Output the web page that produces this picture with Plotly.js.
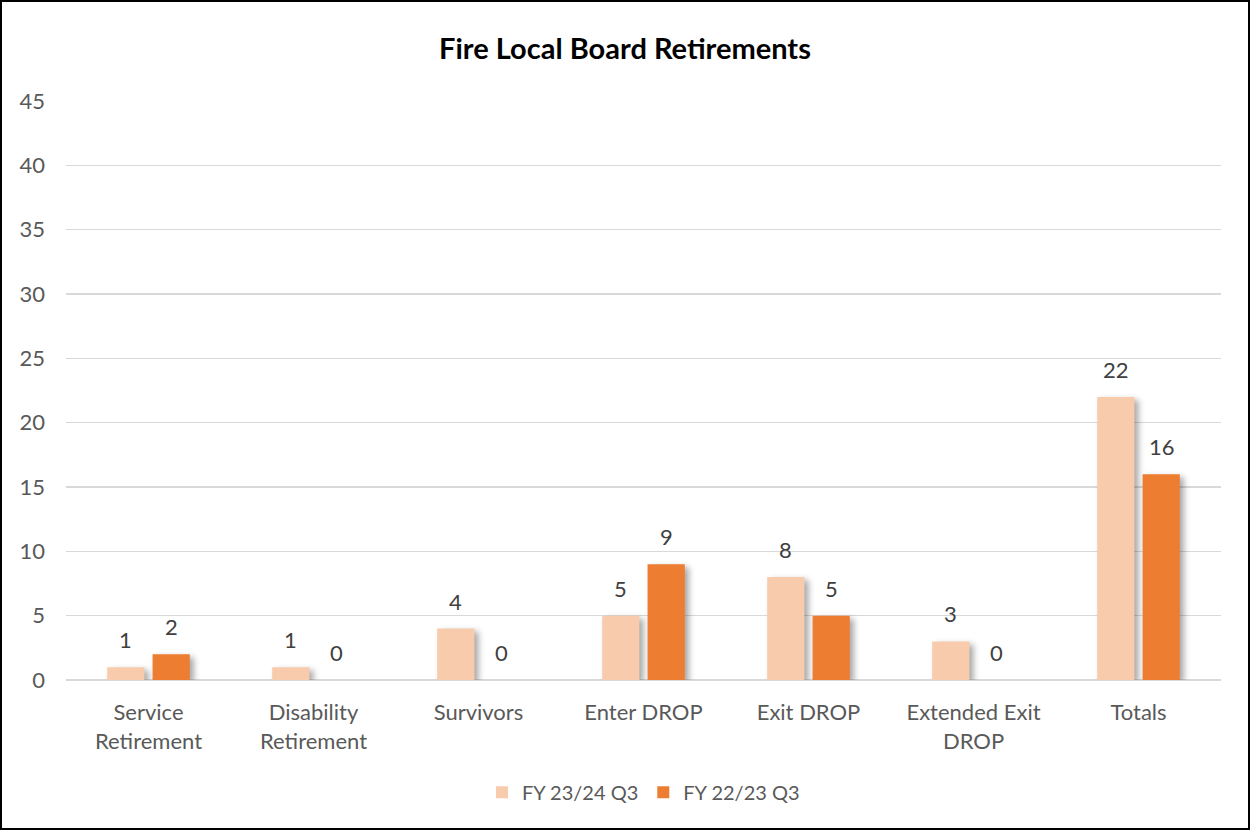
<!DOCTYPE html>
<html>
<head>
<meta charset="utf-8">
<script src="https://cdn.plot.ly/plotly-3.0.1.min.js"></script>
<style>
  html, body { margin: 0; padding: 0; background: #fff; }
  #frame { width: 1250px; height: 830px; box-sizing: border-box; border: 2px solid #000; }
  #chart { width: 1246px; height: 826px; }
  #chart .bars .point path { filter: drop-shadow(4px 3px 3px rgba(0,0,0,0.35)); }
</style>
</head>
<body>
<div id="frame"><div id="chart"></div></div>
<script>
// categories (two-line labels as in the source)
const categories = [
  "Service<br>Retirement",
  "Disability<br>Retirement",
  "Survivors",
  "Enter DROP",
  "Exit DROP",
  "Extended Exit<br>DROP",
  "Totals"
];
const fy2324 = [1, 1, 4, 5, 8, 3, 22];
const fy2223 = [2, 0, 0, 9, 5, 0, 16];
const seriesNames = ["FY 23/24 Q3", "FY 22/23 Q3"];
const yTicks = [0, 5, 10, 15, 20, 25, 30, 35, 40, 45];

const FONT = "Lato, 'Open Sans', sans-serif";
const labelFont = {family: FONT, size: 22, color: "#404040"};

const traces = [
  {
    type: "bar", name: seriesNames[0],
    x: categories, y: fy2324,
    marker: {color: "#F8CBAD"},
    hoverinfo: "skip"
  },
  {
    type: "bar", name: seriesNames[1],
    x: categories, y: fy2223,
    marker: {color: "#ED7D31"},
    hoverinfo: "skip"
  }
];

// value labels sit well above the bars, as in the source
const annotations = [];
[[fy2324, -23], [fy2223, 23]].forEach(([vals, dx]) => {
  vals.forEach((v, i) => {
    annotations.push({
      x: categories[i], y: v, xref: "x", yref: "y",
      text: String(v), showarrow: false,
      xshift: dx, yshift: 12, yanchor: "bottom",
      font: labelFont
    });
  });
});

const layout = {
  width: 1246, height: 826,
  paper_bgcolor: "#fff",
  plot_bgcolor: "#fff",
  margin: {l: 64, r: 27, t: 99, b: 148},
  title: {
    text: "<b>Fire Local Board Retirements</b>",
    font: {family: FONT, size: 29, color: "#000"},
    x: 0.5, xanchor: "center", y: 0.943, yanchor: "middle"
  },
  barmode: "group",
  bargap: 0.45,
  bargroupgap: 0.18,
  annotations: annotations,
  xaxis: {
    type: "category",
    showgrid: false, showline: false, zeroline: false,
    ticks: "",
    ticklabelstandoff: 17,
    tickfont: {family: FONT, size: 22, color: "#595959"}
  },
  yaxis: {
    range: [0, 45],
    tickvals: yTicks,
    showgrid: true, gridcolor: "#D9D9D9", gridwidth: 1.5,
    zeroline: true, zerolinecolor: "#D9D9D9", zerolinewidth: 1.5,
    showline: false, ticks: "",
    ticklabelstandoff: 20,
    tickfont: {family: FONT, size: 22, color: "#595959"}
  },
  showlegend: true,
  legend: {
    orientation: "h",
    x: 0.5, xanchor: "center",
    y: -0.16, yanchor: "top",
    font: {family: FONT, size: 20, color: "#595959"},
    itemwidth: 30
  }
};

Plotly.newPlot("chart", traces, layout, {displayModeBar: false, staticPlot: true});
</script>
</body>
</html>
